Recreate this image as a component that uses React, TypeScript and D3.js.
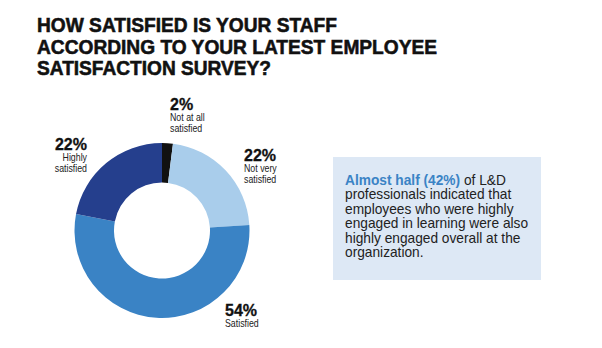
import React from "react";
import * as d3 from "d3";

const categories = ["Not at all satisfied", "Not very satisfied", "Satisfied", "Highly satisfied"];
const values = [2, 22, 54, 22];
const labelLines = [["Not at all", "satisfied"], ["Not very", "satisfied"], ["Satisfied"], ["Highly", "satisfied"]];
const colors = ["#111111", "#a9cdeb", "#3a83c5", "#253f8d"];
const titleLines = ["HOW SATISFIED IS YOUR STAFF", "ACCORDING TO YOUR LATEST EMPLOYEE", "SATISFACTION SURVEY?"];
const calloutHighlight = "Almost half (42%)";
const calloutLines = [
  " of L&D",
  "professionals indicated that",
  "employees who were highly",
  "engaged in learning were also",
  "highly engaged overall at the",
  "organization.",
];

const FONT = "'Liberation Sans', Arial, Helvetica, sans-serif";

// layout only: title widths and label placement relative to donut center
const titleWidths = [300, 400, 234];
const labelLayout = [
  { x: 8, y: -120.5, anchor: "start" },
  { x: 82, y: -70, anchor: "start" },
  { x: 63, y: 85, anchor: "start" },
  { x: -75, y: -80.5, anchor: "end" },
];

export default function App() {
  const W = 602, H = 348;
  const cx = 162, cy = 230.5, rOuter = 87.5, rInner = 48;
  const pie = d3.pie<number>().sort(null).value((d) => d)(values);
  const arc = d3.arc<d3.PieArcDatum<number>>().innerRadius(rInner).outerRadius(rOuter);

  return (
    <svg width={W} height={H} style={{ position: "absolute", left: 0, top: 0, background: "#fff" }}>
      <rect width={W} height={H} fill="#fff" />
      {titleLines.map((t, i) => (
        <text
          key={i}
          x={37}
          y={32.3 + i * 21.4}
          fontFamily={FONT}
          fontWeight="bold"
          fontSize={21}
          fill="#111"
          stroke="#111"
          strokeWidth={0.6}
          textLength={titleWidths[i]}
          lengthAdjust="spacingAndGlyphs"
        >
          {t}
        </text>
      ))}
      <g transform={`translate(${cx},${cy})`}>
        {pie.map((p, i) => (
          <path key={categories[i]} d={arc(p) || ""} fill={colors[i]} />
        ))}
        {pie.map((p, i) => {
          const L = labelLayout[i];
          return (
            <g key={"l" + i} fontFamily={FONT} textAnchor={L.anchor} fill="#111" transform={`translate(${L.x},${L.y})`}>
              <text x={0} y={0} fontSize={16} fontWeight="bold" stroke="#111" strokeWidth={0.3}>
                {`${values[i]}%`}
              </text>
              <g transform="scale(0.8,1)">
                {labelLines[i].map((s, j) => (
                  <text key={j} x={0} y={11.5 + j * 11} fontSize={11} fill="#222">
                    {s}
                  </text>
                ))}
              </g>
            </g>
          );
        })}
      </g>
      <rect x={333} y={157} width={208} height={123} fill="#dde8f5" />
      <g fontFamily={FONT} fontSize={14} fill="#222" transform="translate(345,0) scale(0.98,1)">
        <text x={0} y={185}>
          <tspan fill="#3a83c5" fontWeight="bold">{calloutHighlight}</tspan>
          <tspan>{calloutLines[0]}</tspan>
        </text>
        {calloutLines.slice(1).map((s, i) => (
          <text key={i} x={0} y={199.5 + i * 14.5}>
            {s}
          </text>
        ))}
      </g>
    </svg>
  );
}
